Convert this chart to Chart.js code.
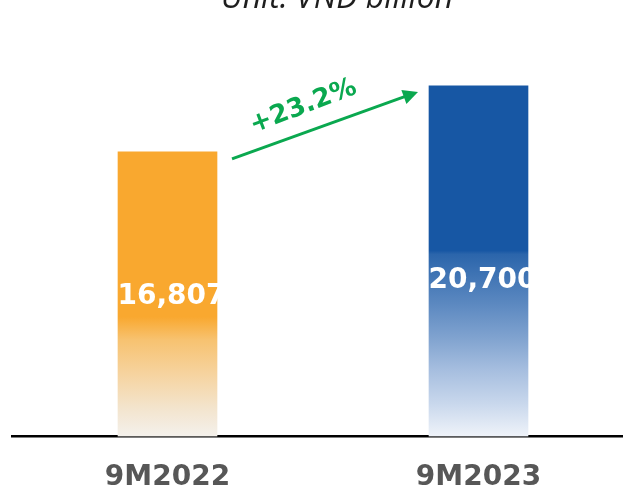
<!DOCTYPE html>
<html><head><meta charset="utf-8">
<script src="https://cdn.jsdelivr.net/npm/chart.js@4/dist/chart.umd.min.js"></script>
<style>
html,body{margin:0;padding:0;background:#fff;overflow:hidden;width:623px;height:491px}
canvas{display:block}
</style>
</head><body>
<canvas id="c" width="634" height="491"></canvas>
<script>
// ---- data ----
const categories = ['9M2022', '9M2023'];
const revenue = [16807, 20700];
const valueLabels = ['16,807', '20,700'];
const growthLabel = '+23.2%';
const unitLabel = 'Unit: VND billion';
const yRange = [0, 24000];

// ---- styles ----
const gradientStops = [
  [[0, '#F9A82F'], [0.58, '#F9A82F'], [0.66, '#F7C270'], [0.78, '#F6D39F'], [0.90, '#F3E4CD'], [1, '#F4F1EC']],
  [[0, '#1757A4'], [0.47, '#1757A4'], [0.48, '#2B65AB'], [0.62, '#5B88C0'], [0.716, '#7FA2CF'], [0.81, '#A6BEDF'], [0.905, '#C8D7EC'], [1, '#EFF3F9']]
];
const labelFrac = [0.49, 0.445];
const GREEN = '#0AA84F';

const decor = {
  id: 'decor',
  afterDatasetsDraw(chart) {
    const ctx = chart.ctx;
    const meta = chart.getDatasetMeta(0);
    const ys = chart.scales.y;
    // value labels
    ctx.save();
    ctx.font = 'bold 28px "DejaVu Sans"';
    ctx.fillStyle = '#ffffff';
    ctx.textAlign = 'center';
    ctx.textBaseline = 'middle';
    meta.data.forEach((bar, i) => {
      ctx.fillText(valueLabels[i], bar.x + 4, ys.getPixelForValue(revenue[i] * labelFrac[i]));
    });
    ctx.restore();

    // growth arrow
    const b0 = meta.data[0], b1 = meta.data[1];
    const x0 = b0.x + b0.width / 2 + 15, y0 = b0.y + 7;
    const x1 = b1.x - b1.width / 2 - 11, y1 = b1.y + 6;
    const ang = Math.atan2(y1 - y0, x1 - x0);
    const head = 15, hw = 7.5;
    ctx.save();
    ctx.strokeStyle = GREEN;
    ctx.fillStyle = GREEN;
    ctx.lineWidth = 3;
    ctx.beginPath();
    ctx.moveTo(x0, y0);
    ctx.lineTo(x1 - Math.cos(ang) * head * 0.8, y1 - Math.sin(ang) * head * 0.8);
    ctx.stroke();
    ctx.translate(x1, y1);
    ctx.rotate(ang);
    ctx.beginPath();
    ctx.moveTo(0, 0);
    ctx.lineTo(-head, -hw);
    ctx.lineTo(-head, hw);
    ctx.closePath();
    ctx.fill();
    ctx.restore();

    // growth label
    const mx = (x0 + x1) / 2, my = (y0 + y1) / 2;
    const dx = Math.cos(ang), dy = Math.sin(ang);
    const nx = dy, ny = -dx; // perpendicular (up)
    const tx = mx - 14 * dx + 25 * nx, ty = my - 14 * dy + 25 * ny;
    ctx.save();
    ctx.translate(tx, ty);
    ctx.rotate(ang - 0.02);
    ctx.font = 'bold 26px "DejaVu Sans"';
    ctx.fillStyle = GREEN;
    ctx.textAlign = 'center';
    ctx.textBaseline = 'middle';
    ctx.fillText(growthLabel, 0, 0);
    ctx.restore();
  },
  afterDraw(chart) {
    const ctx = chart.ctx;
    ctx.save();
    ctx.font = 'italic 32px "Open Sans"';
    ctx.fillStyle = '#1e1e1e';
    ctx.textAlign = 'center';
    ctx.textBaseline = 'alphabetic';
    ctx.fillText(unitLabel, 337, 8);
    ctx.restore();
  }
};

new Chart(document.getElementById('c'), {
  type: 'bar',
  data: {
    labels: categories,
    datasets: [{
      data: revenue,
      barThickness: 99,
      borderWidth: 0,
      backgroundColor: (c) => {
        const chart = c.chart;
        if (!chart.chartArea || c.dataIndex === undefined) return '#ccc';
        const i = c.dataIndex;
        const ys = chart.scales.y;
        const top = ys.getPixelForValue(revenue[i]);
        const bot = ys.getPixelForValue(0);
        const g = chart.ctx.createLinearGradient(0, top, 0, bot);
        gradientStops[i].forEach(([o, col]) => g.addColorStop(o, col));
        return g;
      }
    }]
  },
  options: {
    responsive: false,
    animation: false,
    events: [],
    layout: { padding: { top: 30, left: 12, right: 0, bottom: 0 } },
    plugins: { legend: { display: false }, tooltip: { enabled: false }, title: { display: false } },
    scales: {
      x: {
        offset: true,
        afterFit(scale) { scale.height = 54.5; },
        grid: { display: false, drawTicks: false },
        border: { display: true, color: '#000000', width: 2.5 },
        ticks: {
          padding: 27,
          color: '#575757',
          font: { family: '"DejaVu Sans"', size: 28, weight: 'bold', lineHeight: 1 }
        }
      },
      y: {
        display: false,
        min: yRange[0],
        max: yRange[1]
      }
    }
  },
  plugins: [decor]
});
</script>
</body></html>
